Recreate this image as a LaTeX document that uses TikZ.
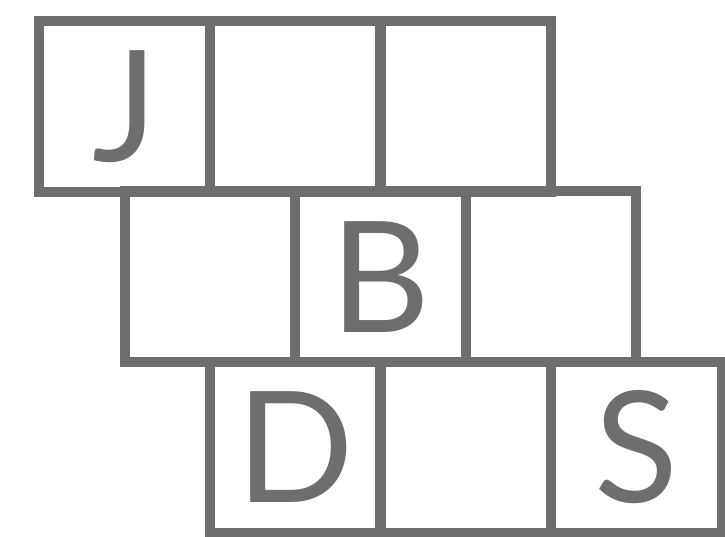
\documentclass[tikz,border=0pt]{standalone}
\usepackage{fontspec}
\newfontfamily\cellfont{Lato}
\usetikzlibrary{positioning}
\definecolor{gris}{HTML}{6E6E6E}

\begin{document}
\begin{tikzpicture}[x=0.01cm, y=-0.01cm,
      font=\cellfont\fontsize{44}{44}\selectfont,
      cell/.style={draw=gris, text=gris, line width=0.1cm,
                   minimum size=1.705cm, inner sep=0pt} ]

    \useasboundingbox (0,0) rectangle (725,536);

    % three rows of three cells, each shifted half a cell
    \foreach \r in {0,1,2} {
      \foreach \c in {0,1,2} {
        \node[cell] (c\r\c) at ({124.75+85.25*\r+170.5*\c}, {106.25+170.5*\r}) {};
      }
    }

    \node[text=gris] at (c00) {J};
    \node[text=gris] at (c11) {B};
    \node[text=gris] at (c20) {D};
    \node[text=gris] at (c22) {S};
  \end{tikzpicture}
\end{document}
